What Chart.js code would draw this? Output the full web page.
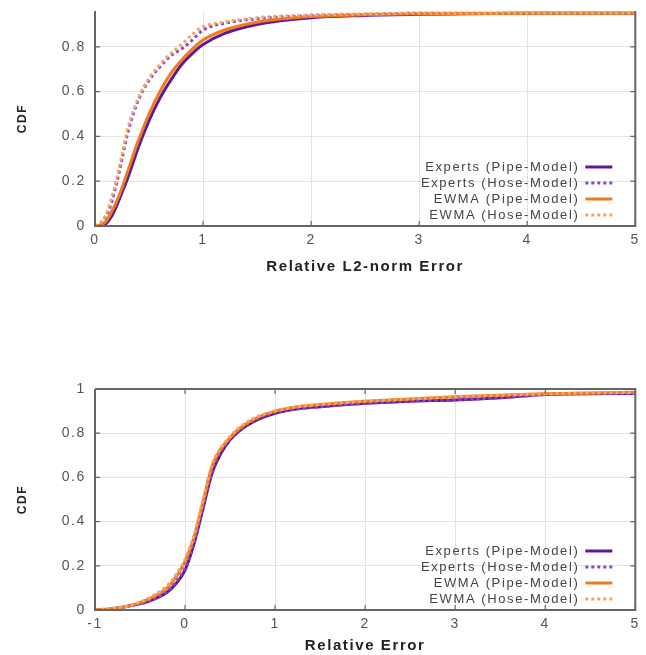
<!DOCTYPE html>
<html>
<head>
<meta charset="utf-8">
<script src="https://cdn.jsdelivr.net/npm/chart.js@4/dist/chart.umd.min.js"></script>
<style>
  html, body { margin: 0; padding: 0; background: #fff; overflow: hidden; }
  #wrap { position: relative; width: 646px; height: 655px; overflow: hidden; }
  .box { position: absolute; left: 0; width: 646px; }
  #b1 { top: -20px; height: 310px; }
  #b2 { top: 300px; height: 355px; }
</style>
</head>
<body>
<div id="wrap">
  <div class="box" id="b1"><canvas id="c1"></canvas></div>
  <div class="box" id="b2"><canvas id="c2"></canvas></div>
</div>
<script>
// ---------- DATA ----------
const seriesNames = ["Experts (Pipe-Model)", "Experts (Hose-Model)", "EWMA (Pipe-Model)", "EWMA (Hose-Model)"];

// Top chart: Relative L2-norm Error
const l2X = [0, 0.05, 0.1, 0.15, 0.2, 0.25, 0.3, 0.4, 0.5, 0.6, 0.7, 0.8, 0.9, 1.0, 1.2, 1.5, 2.0, 2.5, 3.0, 4.0, 5.0];
const l2ExpertsPipe = [0, 0, 0.01, 0.04, 0.09, 0.15, 0.21, 0.35, 0.47, 0.57, 0.65, 0.72, 0.77, 0.81, 0.86, 0.9, 0.93, 0.94, 0.945, 0.95, 0.95];
const l2ExpertsHose = [0, 0.01, 0.04, 0.1, 0.19, 0.3, 0.41, 0.56, 0.65, 0.71, 0.76, 0.79, 0.83, 0.875, 0.905, 0.925, 0.94, 0.945, 0.95, 0.95, 0.95];
const l2EwmaPipe = [0, 0.005, 0.02, 0.06, 0.11, 0.17, 0.24, 0.38, 0.5, 0.6, 0.68, 0.74, 0.79, 0.83, 0.875, 0.91, 0.935, 0.943, 0.948, 0.95, 0.95];
const l2EwmaHose = [0, 0.015, 0.05, 0.12, 0.21, 0.32, 0.43, 0.57, 0.66, 0.72, 0.77, 0.81, 0.855, 0.89, 0.91, 0.93, 0.942, 0.947, 0.95, 0.95, 0.95];
const l2XTicks = [0, 1, 2, 3, 4, 5];
const l2YTicks = [0, 0.2, 0.4, 0.6, 0.8];

// Bottom chart: Relative Error
const reX = [-1, -0.8, -0.6, -0.4, -0.2, -0.1, 0, 0.1, 0.2, 0.3, 0.4, 0.5, 0.6, 0.8, 1.0, 1.25, 1.5, 2, 2.5, 3, 3.5, 4, 5];
const reExpertsPipe = [0, 0.005, 0.02, 0.04, 0.08, 0.12, 0.18, 0.3, 0.46, 0.62, 0.71, 0.77, 0.81, 0.86, 0.89, 0.91, 0.92, 0.935, 0.945, 0.95, 0.96, 0.975, 0.98];
const reExpertsHose = [0, 0.005, 0.02, 0.04, 0.085, 0.13, 0.19, 0.31, 0.47, 0.63, 0.72, 0.775, 0.815, 0.865, 0.895, 0.91, 0.92, 0.935, 0.945, 0.952, 0.96, 0.975, 0.98];
const reEwmaPipe = [0, 0.007, 0.02, 0.05, 0.1, 0.15, 0.22, 0.33, 0.49, 0.65, 0.73, 0.78, 0.82, 0.87, 0.9, 0.92, 0.93, 0.945, 0.955, 0.965, 0.972, 0.978, 0.985];
const reEwmaHose = [0, 0.008, 0.022, 0.055, 0.11, 0.16, 0.23, 0.34, 0.5, 0.66, 0.735, 0.785, 0.825, 0.875, 0.9, 0.92, 0.93, 0.945, 0.955, 0.965, 0.972, 0.978, 0.985];
const reXTicks = [-1, 0, 1, 2, 3, 4, 5];
const reYTicks = [0, 0.2, 0.4, 0.6, 0.8, 1];

// ---------- STYLE ----------
const FONT = "'Liberation Sans', Arial, Helvetica, sans-serif";
const SPACING = '1.6px';
const styles = [
  { color: '#5a1a9a', dash: [], order: 3 },
  { color: '#8a45d0', dash: [3, 3], order: 2 },
  { color: '#f27a1e', dash: [], order: 1 },
  { color: '#f6a465', dash: [3, 3], order: 0 }
];

function zip(xs, ys) { return xs.map((x, i) => ({ x: x, y: ys[i] })); }

function makeDatasets(xs, ysList) {
  return ysList.map((ys, i) => ({
    label: seriesNames[i],
    data: zip(xs, ys),
    borderColor: styles[i].color,
    backgroundColor: styles[i].color,
    borderDash: styles[i].dash,
    borderWidth: 3,
    pointRadius: 0,
    tension: 0.4,
    cubicInterpolationMode: 'monotone',
    order: styles[i].order,
    fill: false
  }));
}

const spacingPlugin = {
  id: 'spacing',
  beforeLayout(chart) { chart.ctx.letterSpacing = SPACING; },
  beforeDraw(chart) { chart.ctx.letterSpacing = SPACING; }
};

const framePlugin = {
  id: 'frame',
  afterDraw(chart, args, opts) {
    const { ctx, chartArea: a, scales } = chart;
    ctx.save();
    ctx.strokeStyle = '#666';
    ctx.lineWidth = 2;
    ctx.beginPath();
    ctx.moveTo(a.left, a.top);
    ctx.lineTo(a.left, a.bottom);
    ctx.lineTo(a.right, a.bottom);
    ctx.lineTo(a.right, a.top);
    if (opts.top) ctx.lineTo(a.left, a.top);
    ctx.stroke();
    // inward tick marks
    ctx.lineWidth = 1.2;
    ctx.beginPath();
    const t = 5;
    scales.x.ticks.forEach(tk => {
      const px = scales.x.getPixelForValue(tk.value);
      ctx.moveTo(px, a.bottom); ctx.lineTo(px, a.bottom - t);
      if (opts.top) { ctx.moveTo(px, a.top); ctx.lineTo(px, a.top + t); }
    });
    scales.y.ticks.forEach(tk => {
      const py = scales.y.getPixelForValue(tk.value);
      ctx.moveTo(a.left, py); ctx.lineTo(a.left + t, py);
      ctx.moveTo(a.right, py); ctx.lineTo(a.right - t, py);
    });
    ctx.stroke();
    // legend
    const rows = [59, 43, 27, 11];
    ctx.font = '13px ' + FONT;
    ctx.letterSpacing = '1.6px';
    ctx.fillStyle = '#444';
    ctx.textAlign = 'right';
    ctx.textBaseline = 'middle';
    chart.data.datasets.forEach((ds, i) => {
      const y = a.bottom - rows[i];
      ctx.fillText(ds.label, a.right - 56, y);
      ctx.save();
      ctx.strokeStyle = ds.borderColor;
      ctx.lineWidth = 3;
      ctx.setLineDash(ds.borderDash);
      ctx.beginPath();
      ctx.moveTo(a.right - 50, y);
      ctx.lineTo(a.right - 23, y);
      ctx.stroke();
      ctx.restore();
    });
    ctx.restore();
  }
};

function makeChart(id, xs, ysList, xMin, xMax, yMax, xTicks, yTicks, xTitle, padTop, xScaleH, xTitlePad, frameTop) {
  return new Chart(document.getElementById(id), {
    type: 'line',
    data: { datasets: makeDatasets(xs, ysList) },
    plugins: [spacingPlugin, framePlugin],
    options: {
      responsive: true,
      maintainAspectRatio: false,
      animation: false,
      layout: { padding: { top: padTop, right: 6, left: 0, bottom: 0 } },
      plugins: {
        legend: { display: false },
        tooltip: { enabled: false },
        frame: { top: frameTop }
      },
      scales: {
        x: {
          type: 'linear', min: xMin, max: xMax,
          afterBuildTicks: s => { s.ticks = xTicks.map(v => ({ value: v })); },
          afterFit: s => { s.height = xScaleH; },
          ticks: { color: '#555', font: { family: FONT, size: 14 }, padding: 6, maxRotation: 0,
                   callback: v => String(v) },
          grid: { color: '#e3e3e3', lineWidth: 1, drawTicks: false },
          border: { display: false },
          title: { display: true, text: xTitle, color: '#222',
                   font: { family: FONT, size: 15, weight: 'bold' },
                   padding: { top: 0, bottom: xTitlePad } }
        },
        y: {
          type: 'linear', min: 0, max: yMax,
          afterBuildTicks: s => { s.ticks = yTicks.map(v => ({ value: v })); },
          afterFit: s => { s.width = 95; },
          ticks: { color: '#555', font: { family: FONT, size: 14 }, padding: 9,
                   callback: v => String(v) },
          grid: { color: '#e3e3e3', lineWidth: 1, drawTicks: false },
          border: { display: false },
          title: { display: true, text: 'CDF', color: '#222',
                   font: { family: FONT, size: 12, weight: 'bold' },
                   padding: { top: 15, bottom: 0 } }
        }
      }
    }
  });
}

makeChart('c1', l2X, [l2ExpertsPipe, l2ExpertsHose, l2EwmaPipe, l2EwmaHose],
  0, 5, 0.96, l2XTicks, l2YTicks, 'Relative L2-norm Error', 31, 64, 14.6, false);
makeChart('c2', reX, [reExpertsPipe, reExpertsHose, reEwmaPipe, reEwmaHose],
  -1, 5, 1, reXTicks, reYTicks, 'Relative Error', 89, 45, 0.6, true);
</script>
</body>
</html>
